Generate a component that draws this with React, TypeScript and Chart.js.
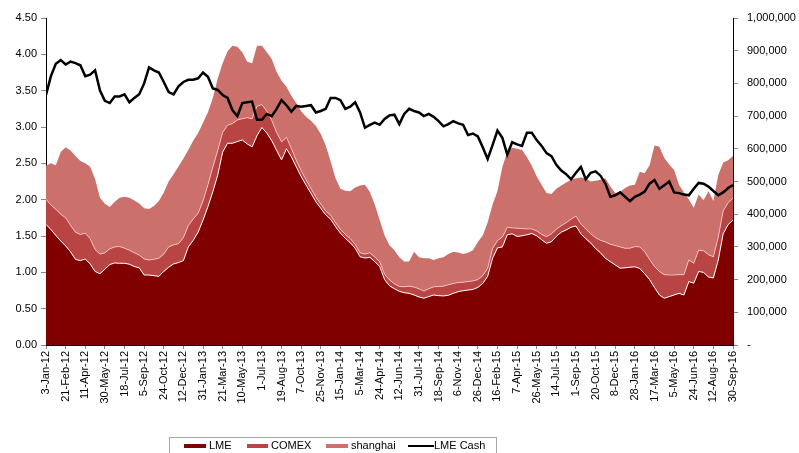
import React, { useEffect, useRef } from 'react';
import { Chart, registerables } from 'chart.js';

Chart.register(...registerables);

// X tick labels (one every 4 sample points)
const tickLabels = [
  '3-Jan-12', '21-Feb-12', '11-Apr-12', '30-May-12', '18-Jul-12', '5-Sep-12',
  '24-Oct-12', '12-Dec-12', '31-Jan-13', '21-Mar-13', '10-May-13', '1-Jul-13',
  '19-Aug-13', '7-Oct-13', '25-Nov-13', '15-Jan-14', '5-Mar-14', '24-Apr-14',
  '12-Jun-14', '31-Jul-14', '18-Sep-14', '6-Nov-14', '26-Dec-14', '16-Feb-15',
  '7-Apr-15', '26-May-15', '14-Jul-15', '1-Sep-15', '20-Oct-15', '8-Dec-15',
  '28-Jan-16', '17-Mar-16', '5-May-16', '24-Jun-16', '12-Aug-16', '30-Sep-16',
];
const POINTS_PER_LABEL = 4;

// Stocks, tonnes (right axis, stacked)
const lmeStocks = [
  369000, 353000, 335000, 318000, 303000, 285000, 262000, 258000, 263000, 248000,
  225000, 218000, 232000, 246000, 251000, 250000, 250000, 247000, 240000, 236000,
  214000, 214000, 212000, 210000, 225000, 238000, 248000, 252000, 258000, 300000,
  320000, 345000, 382000, 423000, 469000, 520000, 590000, 617000, 617000, 622000,
  627000, 615000, 606000, 640000, 665000, 648000, 625000, 595000, 566000, 600000,
  576000, 545000, 515000, 489000, 464000, 438000, 418000, 398000, 385000, 362000,
  342000, 326000, 313000, 296000, 270000, 266000, 268000, 255000, 240000, 200000,
  181000, 172000, 164000, 160000, 158000, 153000, 147000, 143000, 148000, 153000,
  151000, 150000, 152000, 158000, 163000, 166000, 168000, 170000, 176000, 188000,
  210000, 265000, 297000, 300000, 337000, 340000, 332000, 334000, 337000, 341000,
  334000, 322000, 311000, 316000, 332000, 345000, 352000, 360000, 364000, 340000,
  325000, 312000, 295000, 282000, 265000, 255000, 245000, 235000, 236000, 238000,
  239000, 234000, 218000, 200000, 176000, 153000, 143000, 148000, 153000, 158000,
  153000, 194000, 189000, 225000, 222000, 208000, 205000, 260000, 340000, 368000, 382000,
];

const comexStocks = [
  77000, 75000, 80000, 82000, 86000, 81000, 83000, 80000, 79000, 77000,
  67000, 60000, 50000, 48000, 49000, 51000, 46000, 43000, 42000, 39000,
  49000, 46000, 50000, 55000, 53000, 62000, 58000, 58000, 70000, 65000,
  65000, 58000, 58000, 67000, 75000, 75000, 60000, 55000, 60000, 66000,
  65000, 80000, 86000, 90000, 70000, 67000, 62000, 55000, 55000, 35000,
  25000, 20000, 18000, 16000, 15000, 14000, 13000, 12000, 12000, 12000,
  12000, 12000, 12000, 12000, 12000, 12000, 14000, 14000, 15000, 16000,
  18000, 15000, 15000, 18000, 22000, 24000, 25000, 22000, 24000, 25000,
  28000, 30000, 32000, 30000, 28000, 26000, 26000, 26000, 24000, 24000,
  25000, 30000, 22000, 30000, 23000, 18000, 25000, 22000, 18000, 14000,
  15000, 16000, 20000, 24000, 22000, 20000, 22000, 25000, 30000, 30000,
  30000, 28000, 33000, 38000, 50000, 53000, 59000, 65000, 60000, 58000,
  62000, 66000, 67000, 62000, 64000, 72000, 72000, 66000, 61000, 57000,
  62000, 66000, 61000, 65000, 66000, 68000, 65000, 70000, 70000, 67000, 67000,
];

const shanghaiStocks = [
  102000, 128000, 135000, 190000, 216000, 229000, 233000, 225000, 214000, 220000,
  216000, 172000, 150000, 128000, 138000, 149000, 157000, 160000, 160000, 158000,
  155000, 156000, 163000, 175000, 188000, 200000, 216000, 236000, 242000, 231000,
  240000, 245000, 240000, 222000, 211000, 220000, 212000, 226000, 238000, 224000,
  203000, 171000, 170000, 185000, 180000, 180000, 188000, 185000, 187000, 155000,
  161000, 175000, 182000, 193000, 207000, 218000, 214000, 200000, 165000, 136000,
  124000, 134000, 145000, 174000, 206000, 212000, 186000, 161000, 127000, 119000,
  106000, 103000, 89000, 77000, 75000, 108000, 96000, 100000, 93000, 82000,
  86000, 88000, 94000, 97000, 92000, 86000, 88000, 94000, 115000, 123000,
  140000, 135000, 151000, 215000, 230000, 245000, 243000, 240000, 220000, 193000,
  166000, 152000, 134000, 122000, 124000, 123000, 123000, 120000, 116000, 142000,
  155000, 160000, 174000, 185000, 195000, 177000, 161000, 168000, 184000, 192000,
  189000, 230000, 240000, 288000, 370000, 381000, 357000, 338000, 321000, 275000,
  251000, 185000, 170000, 170000, 155000, 194000, 170000, 190000, 148000, 130000, 129000,
];

// LME cash price, left axis
const lmeCash = [
  3.44, 3.70, 3.87, 3.92, 3.86, 3.90, 3.88, 3.85, 3.70, 3.72,
  3.78, 3.50, 3.36, 3.33, 3.42, 3.42, 3.45, 3.34, 3.40, 3.45,
  3.60, 3.82, 3.78, 3.75, 3.62, 3.48, 3.45, 3.56, 3.62, 3.65,
  3.65, 3.67, 3.75, 3.69, 3.53, 3.51, 3.44, 3.40, 3.23, 3.15,
  3.33, 3.34, 3.35, 3.10, 3.10, 3.18, 3.15, 3.25, 3.37, 3.30,
  3.21, 3.29, 3.28, 3.29, 3.30, 3.20, 3.22, 3.25, 3.40, 3.40,
  3.37, 3.25, 3.28, 3.34, 3.20, 2.99, 3.03, 3.06, 3.03, 3.11,
  3.16, 3.17, 3.04, 3.18, 3.25, 3.22, 3.20, 3.15, 3.18, 3.14,
  3.08, 3.01, 3.04, 3.08, 3.05, 3.03, 2.89, 2.91, 2.87, 2.72,
  2.56, 2.75, 2.95, 2.85, 2.62, 2.79, 2.76, 2.74, 2.92, 2.92,
  2.82, 2.74, 2.64, 2.60, 2.48, 2.40, 2.35, 2.28, 2.37, 2.45,
  2.28, 2.37, 2.39, 2.33, 2.22, 2.04, 2.06, 2.10, 2.04, 1.98,
  2.04, 2.07, 2.11, 2.22, 2.27, 2.15, 2.20, 2.25, 2.10, 2.09,
  2.07, 2.06, 2.15, 2.23, 2.22, 2.18, 2.12, 2.06, 2.10, 2.16, 2.20,
];

const FONT = '"Liberation Sans", Arial, Helvetica, sans-serif';

export default function App() {
  const canvasRef = useRef<HTMLCanvasElement | null>(null);

  useEffect(() => {
    document.body.style.margin = '0';
    const canvas = canvasRef.current;
    if (!canvas) return;
    const toPts = (arr: number[]) => arr.map((y, i) => ({ x: i, y }));
    const lastIndex = lmeStocks.length - 1;

    const boxLegend = {
      id: 'boxLegend',
      afterDraw(chart: any) {
        const c = chart.ctx as CanvasRenderingContext2D;
        c.save();
        c.strokeStyle = '#a6a6a6';
        c.lineWidth = 1;
        c.strokeRect(169.5, 437.5, 327, 30);
        const items = [
          { ds: 1, x1: 184, x2: 206, tx: 209, w: 4 },
          { ds: 2, x1: 247, x2: 268, tx: 271, w: 4 },
          { ds: 3, x1: 326, x2: 348, tx: 351, w: 4 },
          { ds: 0, x1: 408, x2: 434, tx: 434, w: 2 },
        ];
        c.font = '11px ' + FONT;
        c.textBaseline = 'middle';
        c.textAlign = 'left';
        const y = 446;
        for (const it of items) {
          const ds = chart.data.datasets[it.ds];
          const col = it.ds === 0 ? ds.borderColor : ds.backgroundColor;
          c.strokeStyle = col;
          c.lineWidth = it.w;
          c.beginPath();
          c.moveTo(it.x1, y);
          c.lineTo(it.x2, y);
          c.stroke();
          c.fillStyle = '#000';
          c.fillText(ds.label, it.tx, y);
        }
        c.restore();
      },
    };

    const chart = new Chart(canvas, {
      type: 'line',
      data: {
        datasets: [
          {
            label: 'LME Cash',
            data: toPts(lmeCash),
            yAxisID: 'y',
            borderColor: '#000000',
            borderWidth: 2.5,
            pointRadius: 0,
            fill: false,
            order: 0,
          },
          {
            label: 'LME',
            data: toPts(lmeStocks),
            yAxisID: 'y2',
            backgroundColor: '#800000',
            borderColor: '#ffffff',
            borderWidth: 1,
            pointRadius: 0,
            fill: 'origin',
            order: 1,
          },
          {
            label: 'COMEX',
            data: toPts(comexStocks),
            yAxisID: 'y2',
            backgroundColor: '#B84444',
            borderColor: 'rgba(255,220,220,0.9)',
            borderWidth: 0.8,
            pointRadius: 0,
            fill: '-1',
            order: 2,
          },
          {
            label: 'shanghai',
            data: toPts(shanghaiStocks),
            yAxisID: 'y2',
            backgroundColor: '#CC706C',
            borderColor: '#CC706C',
            borderWidth: 0,
            pointRadius: 0,
            fill: '-1',
            order: 3,
          },
        ],
      },
      options: {
        responsive: false,
        animation: false,
        events: [],
        layout: { padding: { top: 18, left: 0, right: 0, bottom: 0 } },
        elements: { line: { tension: 0 } },
        plugins: {
          legend: { display: false },
          tooltip: { enabled: false },
        },
        scales: {
          x: {
            type: 'linear',
            min: 0,
            max: lastIndex,
            afterFit: (s: any) => {
              s.height = 108;
            },
            border: { color: '#000', width: 1 },
            grid: { drawOnChartArea: false, drawTicks: true, tickLength: 4, color: '#888' },
            ticks: {
              stepSize: POINTS_PER_LABEL,
              autoSkip: false,
              maxRotation: 90,
              minRotation: 90,
              padding: 2,
              color: '#000',
              font: { family: FONT, size: 11 },
              callback: (v: any) => tickLabels[Math.round(Number(v) / POINTS_PER_LABEL)] ?? '',
            },
          },
          y: {
            position: 'left',
            min: 0,
            max: 4.5,
            afterFit: (s: any) => {
              s.width = 46;
            },
            border: { color: '#000', width: 1 },
            grid: { drawOnChartArea: false, drawTicks: true, tickLength: 5, color: '#888' },
            ticks: {
              stepSize: 0.5,
              padding: 4,
              color: '#000',
              font: { family: FONT, size: 11 },
              callback: (v: any) => Number(v).toFixed(2),
            },
          },
          y2: {
            position: 'right',
            stacked: true,
            min: 0,
            max: 1000000,
            afterFit: (s: any) => {
              s.width = 66;
            },
            border: { color: '#000', width: 1 },
            grid: { drawOnChartArea: false, drawTicks: true, tickLength: 5, color: '#888' },
            ticks: {
              stepSize: 100000,
              padding: 9,
              color: '#000',
              font: { family: FONT, size: 11 },
              callback: (v: any) => (Number(v) === 0 ? '-' : Number(v).toLocaleString('en-US')),
            },
          },
        },
      },
      plugins: [boxLegend],
    } as any);

    return () => chart.destroy();
  }, []);

  return (
    <div style={{ width: 799, height: 453, position: 'relative', overflow: 'hidden' }}>
      <canvas ref={canvasRef} width={799} height={453} />
    </div>
  );
}
